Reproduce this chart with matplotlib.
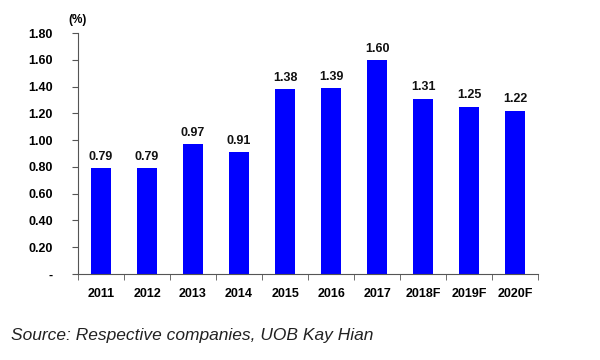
import matplotlib
matplotlib.use("Agg")
import matplotlib.pyplot as plt
from matplotlib.ticker import FixedLocator, NullFormatter

categories = ["2011", "2012", "2013", "2014", "2015", "2016", "2017", "2018F", "2019F", "2020F"]
values = [0.79, 0.79, 0.97, 0.91, 1.38, 1.39, 1.60, 1.31, 1.25, 1.22]
yticks = [0, 0.2, 0.4, 0.6, 0.8, 1.0, 1.2, 1.4, 1.6, 1.8]
ytick_labels = ["-", "0.20", "0.40", "0.60", "0.80", "1.00", "1.20", "1.40", "1.60", "1.80"]

plt.rcParams['font.family'] = ['Liberation Sans', 'DejaVu Sans']
fig = plt.figure(figsize=(6, 3.6), dpi=100)
ax = fig.add_axes([0.13, 0.239, 0.767, 0.669])
x = list(range(len(categories)))
ax.bar(x, values, width=0.43, color="#0000FF")
for xi, v in zip(x, values):
    ax.text(xi, v + 0.04, f"{v:.2f}", ha="center", va="bottom", fontsize=9, fontweight="bold", color="#111111")
ax.set_xlim(-0.5, len(categories) - 0.5)
ax.set_ylim(0, 1.8)
ax.set_yticks(yticks)
ax.set_yticklabels(ytick_labels, fontsize=9, fontweight="bold")
ax.set_xticks(x)
ax.set_xticklabels(categories, fontsize=9, fontweight="bold")
ax.tick_params(axis="x", length=0, pad=10)
ax.xaxis.set_minor_locator(FixedLocator([i - 0.5 for i in range(len(categories) + 1)]))
ax.xaxis.set_minor_formatter(NullFormatter())
ax.tick_params(axis="x", which="minor", length=4, color="#555555", direction="out")
ax.tick_params(axis="y", length=4, color="#555555", pad=14)
for s in ["top", "right"]:
    ax.spines[s].set_visible(False)
ax.spines["left"].set_color("#555555")
ax.spines["bottom"].set_color("#555555")
ax.text(-0.02, 1.03, "(%)", transform=ax.transAxes, fontsize=8.5, fontweight="bold", ha="left", va="bottom")
fig.text(0.018, 0.055, "Source: Respective companies, UOB Kay Hian", fontsize=12.5, style="italic",
         color="#222222")
fig.savefig("out.png", dpi=100)
